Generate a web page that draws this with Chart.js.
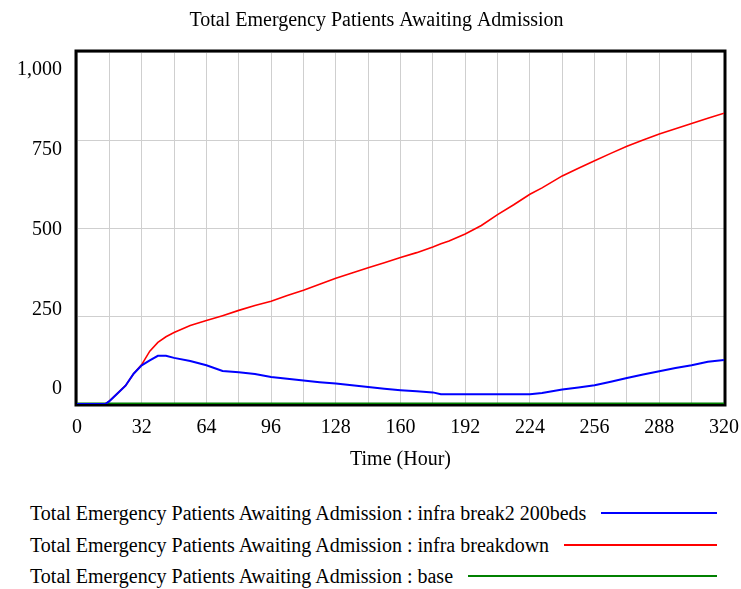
<!DOCTYPE html>
<html lang="en">
<head>
    <meta charset="UTF-8">
    <title>Total Emergency Patients Awaiting Admission</title>
    <script src="https://cdn.jsdelivr.net/npm/chart.js"></script>
    <style>
        body {
            margin: 0;
            background-color: #ffffff;
            font-family: "Liberation Serif", "Times New Roman", serif;
        }

        #wrap {
            position: relative;
            width: 741px;
            height: 589px;
            overflow: hidden;
        }

        /* a bit wider than the page so the last x label can hang past the frame */
        #chart-box {
            position: absolute;
            left: 0;
            top: 0;
            width: 751px;
            height: 480px;
        }

        .legend-row {
            position: absolute;
            left: 30px;
            width: 687px;
            height: 30px;
            display: flex;
            align-items: center;
            font-size: 20px;
            color: #000;
            white-space: nowrap;
        }

        .legend-row .swatch {
            flex: 1;
            height: 2px;
            margin-left: 15px;
        }
    </style>
</head>
<body>
    <div id="wrap">
        <div id="chart-box"><canvas id="chart"></canvas></div>
        <div id="legend"></div>
    </div>
    <script>
        // Time axis (hours) shared by all runs
        const hours = [0, 8, 14, 16, 20, 24, 28, 32, 36, 40, 44, 48, 56, 64, 72, 80, 88, 96,
            104, 112, 120, 128, 136, 144, 152, 160, 168, 176, 180, 184, 192, 200, 208, 216,
            224, 230, 240, 248, 256, 264, 272, 280, 288, 296, 304, 312, 320];

        // infra break2 200beds
        const infraBreak2 = [0, 0, 0, 8, 30, 52, 86, 110, 124, 137, 137, 131, 122, 110, 94, 90, 85, 77,
            72, 67, 62, 58, 53, 48, 43, 39, 36, 33, 28, 28, 28, 28, 28, 28,
            28, 31, 41, 47, 53, 63, 74, 84, 93, 102, 110, 120, 125];

        // infra breakdown
        const infraBreakdown = [0, 0, 0, 8, 30, 52, 86, 112, 150, 175, 191, 203, 223, 237, 251, 266, 280, 292,
            308, 323, 340, 357, 372, 387, 401, 416, 430, 446, 455, 463, 483, 507, 538, 566,
            596, 614, 648, 670, 691, 712, 732, 750, 767, 782, 797, 812, 826];

        // base
        const base = [0, 0, 0, 0, 0, 0, 0, 0, 0, 0, 0, 0, 0, 0, 0, 0, 0, 0,
            0, 0, 0, 0, 0, 0, 0, 0, 0, 0, 0, 0, 0, 0, 0, 0,
            0, 0, 0, 0, 0, 0, 0, 0, 0, 0, 0, 0, 0];

        const seriesNames = [
            'Total Emergency Patients Awaiting Admission : infra break2 200beds',
            'Total Emergency Patients Awaiting Admission : infra breakdown',
            'Total Emergency Patients Awaiting Admission : base'
        ];
        const seriesColors = ['#0000ff', '#ff0000', '#008000'];
        const seriesWidths = [2, 1.6, 3];

        const yTicks = [0, 250, 500, 750, 1000];
        const xTickStep = 16;
        const xLabelStep = 32;

        const serif = '"Liberation Serif", "Times New Roman", serif';

        function toPoints(values) {
            return hours.map((h, i) => ({ x: h, y: values[i] }));
        }

        // Black frame round the plot area
        const framePlugin = {
            id: 'frame',
            beforeDatasetsDraw(chart) {
                const a = chart.chartArea;
                const ctx = chart.ctx;
                ctx.save();
                ctx.strokeStyle = '#000';
                ctx.lineWidth = 3;
                ctx.strokeRect(a.left - 1, a.top - 1, a.right - a.left + 2, a.bottom - a.top + 2);
                ctx.restore();
            }
        };

        new Chart(document.getElementById('chart'), {
            type: 'line',
            data: {
                datasets: [infraBreak2, infraBreakdown, base].map((vals, i) => ({
                    label: seriesNames[i],
                    data: toPoints(vals),
                    borderColor: seriesColors[i],
                    borderWidth: seriesWidths[i],
                    pointRadius: 0,
                    tension: 0,
                    fill: false
                }))
            },
            options: {
                responsive: true,
                maintainAspectRatio: false,
                animation: false,
                layout: {
                    padding: { left: 2, right: 0, top: 0, bottom: 4 }
                },
                plugins: {
                    legend: { display: false },
                    tooltip: { enabled: false },
                    title: {
                        display: true,
                        text: 'Total Emergency Patients Awaiting Admission',
                        color: '#000',
                        font: { family: serif, size: 20, weight: 'normal' },
                        padding: { top: 9, bottom: 19 }
                    }
                },
                scales: {
                    x: {
                        type: 'linear',
                        min: 0,
                        max: 320,
                        grid: { color: '#cfcfcf', drawTicks: false },
                        border: { display: false },
                        ticks: {
                            stepSize: xTickStep,
                            autoSkip: false,
                            maxRotation: 0,
                            padding: 12,
                            color: '#000',
                            font: { family: serif, size: 20 },
                            callback: v => (v % xLabelStep === 0 ? String(v) : '')
                        },
                        title: {
                            display: true,
                            text: 'Time (Hour)',
                            color: '#000',
                            font: { family: serif, size: 20 },
                            padding: { top: -4, bottom: 4 }
                        }
                    },
                    y: {
                        type: 'linear',
                        position: 'left',
                        min: 0,
                        max: 1000,
                        grid: { color: '#cfcfcf', drawTicks: false },
                        border: { display: false },
                        ticks: { display: false, stepSize: 250 }
                    },
                    // label-only axis: spreads the y labels the way the original does
                    yLabels: {
                        type: 'linear',
                        position: 'left',
                        min: -47,
                        max: 1057,
                        grid: { display: false, drawTicks: false },
                        border: { display: false },
                        afterBuildTicks: scale => {
                            scale.ticks = yTicks.map(v => ({ value: v }));
                        },
                        ticks: {
                            padding: 15,
                            color: '#000',
                            font: { family: serif, size: 20 }
                        }
                    }
                }
            },
            plugins: [framePlugin]
        });

        // Legend below the chart: name followed by a line sample
        const legend = document.getElementById('legend');
        const legendTops = [498, 530, 561];
        seriesNames.forEach((name, i) => {
            const row = document.createElement('div');
            row.className = 'legend-row';
            row.style.top = legendTops[i] + 'px';
            row.innerHTML = `<span>${name}</span><span class="swatch" style="background:${seriesColors[i]}"></span>`;
            legend.appendChild(row);
        });
    </script>
</body>
</html>
